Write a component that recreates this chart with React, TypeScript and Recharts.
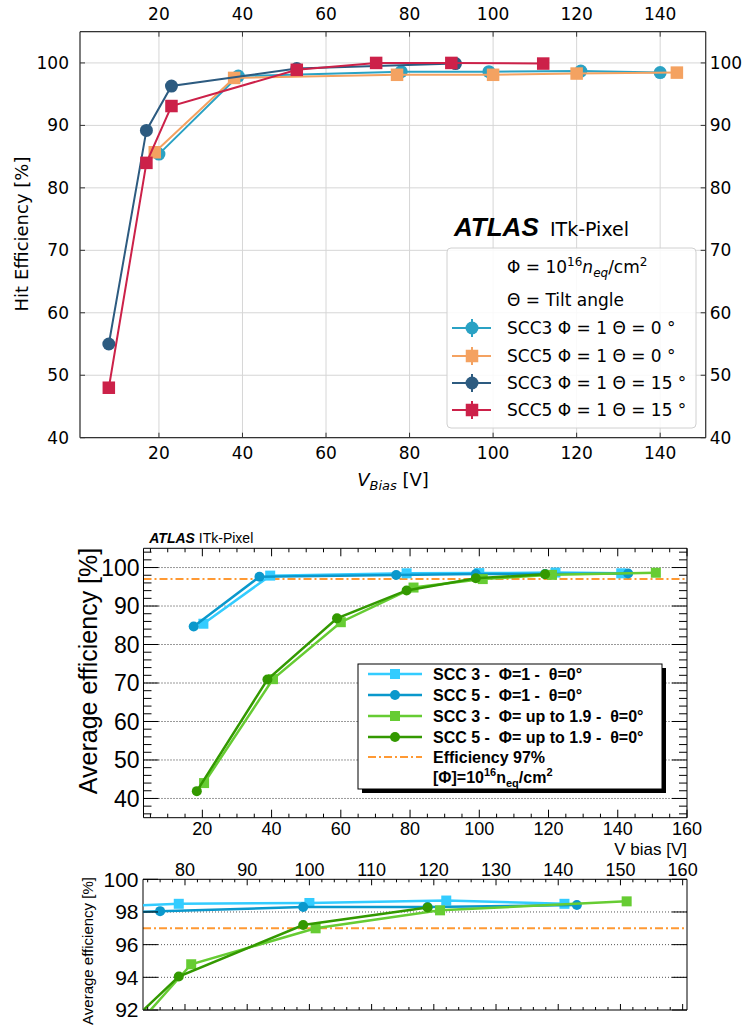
import React from "react";
import { CartesianGrid, ReferenceLine, Scatter, ScatterChart, XAxis, YAxis } from "recharts";

// ---------- top panel : hit efficiency vs V_bias ----------
const a3_0x = [20, 39, 78, 99, 121, 140]; // SCC3 Φ=1 Θ=0°
const a3_0y = [85.4, 97.9, 98.6, 98.6, 98.7, 98.45];
const a5_0x = [19, 38, 77, 100, 120, 144]; // SCC5 Φ=1 Θ=0°
const a5_0y = [85.7, 97.6, 98.1, 98.1, 98.3, 98.45];
const a3_15x = [8, 17, 23, 53, 91]; // SCC3 Φ=1 Θ=15°
const a3_15y = [55, 89.2, 96.3, 99.1, 99.9];
const a5_15x = [8, 17, 23, 53, 72, 90, 112]; // SCC5 Φ=1 Θ=15°
const a5_15y = [48, 84, 93.1, 98.9, 100, 100, 99.9];

const topXTicks = [20, 40, 60, 80, 100, 120, 140];
const topYTicks = [40, 50, 60, 70, 80, 90, 100];

// ---------- lower panels : average efficiency vs V bias ----------
const b3_1x = [20.3, 39.6, 79, 100, 122, 141]; // SCC 3 Φ=1
const b3_1y = [85.4, 97.9, 98.5, 98.55, 98.7, 98.5];
const b5_1x = [17.5, 36.5, 76, 99, 119, 143]; // SCC 5 Φ=1
const b5_1y = [84.7, 97.6, 98.05, 98.3, 98.3, 98.43];
const b3_19x = [20.5, 40.4, 60, 81, 101, 121, 151]; // SCC 3 Φ up to 1.9
const b3_19y = [44, 71, 85.8, 94.8, 97.0, 98.1, 98.65];
const b5_19x = [18.4, 38.8, 58.9, 79, 99, 119]; // SCC 5 Φ up to 1.9
const b5_19y = [41.9, 70.9, 86.8, 94.05, 97.2, 98.27];
const effLine = 97;

const midXLabels = [20, 40, 60, 80, 100, 120, 140, 160];
const midYLabels = [40, 50, 60, 70, 80, 90, 100];
const lowXLabels = [80, 90, 100, 110, 120, 130, 140, 150, 160];
const lowYLabels = [92, 94, 96, 98, 100];
const lowGrid = [94, 96, 98];

const MPL = "'DejaVu Sans', sans-serif";
const ROOT = "'Liberation Sans', Arial, sans-serif";

const pts = (xs: number[], ys: number[]) => xs.map((x, i) => ({ x, y: ys[i] }));
const range = (a: number, b: number, s: number) => {
  const out: number[] = [];
  for (let v = a; v <= b + 1e-9; v += s) out.push(Math.round(v * 100) / 100);
  return out;
};

const dot = (r: number, fill: string) => (p: any) => <circle cx={p.cx} cy={p.cy} r={r} fill={fill} />;
const box = (s: number, fill: string) => (p: any) => (
  <rect x={p.cx - s / 2} y={p.cy - s / 2} width={s} height={s} fill={fill} />
);

type Side = "left" | "right" | "top" | "bottom";
type TickStyle = {
  labels: number[];
  majors: number[];
  len: number;
  minor: number;
  pad: number;
  size: number;
  font: string;
  stroke: string;
};
const near = (arr: number[], v: number) => arr.some((a) => Math.abs(a - v) < 1e-6);

// ticks drawn inward from the frame, labels placed outside
function mkTick(side: Side, s: TickStyle) {
  return (props: any) => {
    const { x, y, payload } = props;
    const v = Number(payload.value);
    const L = near(s.majors, v) ? s.len : s.minor;
    let x2 = x, y2 = y, tx = x, ty = y;
    let anchor: "start" | "middle" | "end" = "middle";
    let dy = "0.35em";
    if (side === "left") { x2 = x + L; tx = x - s.pad; anchor = "end"; }
    else if (side === "right") { x2 = x - L; tx = x + s.pad; anchor = "start"; }
    else if (side === "top") { y2 = y + L; ty = y - s.pad; dy = "0"; }
    else { y2 = y - L; ty = y + s.pad; dy = "0.71em"; }
    return (
      <g>
        <line x1={x} y1={y} x2={x2} y2={y2} stroke={s.stroke} strokeWidth={1} />
        {near(s.labels, v) && (
          <text x={tx} y={ty} dy={dy} textAnchor={anchor} fontFamily={s.font} fontSize={s.size} fill="#000">
            {v}
          </text>
        )}
      </g>
    );
  };
}

const C = {
  a3_0: "#2aa2c4",
  a5_0: "#f4a261",
  a3_15: "#2d5b80",
  a5_15: "#cc2149",
  b3_1: "#33ccff",
  b5_1: "#0a98cc",
  b3_19: "#66cc33",
  b5_19: "#339900",
  eff: "#ff9933",
};

// axes get a 1px band (a 0 size axis is not drawn), margins are reduced by that
const AX = { tickSize: 0, tickMargin: 0, tickLine: false, interval: 0 as const, allowDataOverflow: true };

function TopChart() {
  const frame = "#333";
  const base = { majors: topXTicks, len: 5, minor: 5, size: 17, font: MPL, stroke: frame };
  const yb = { ...base, majors: topYTicks };
  const axisLine = { stroke: frame, strokeWidth: 1.2 };
  const xDom: [number, number] = [1.1, 150.9];
  const yDom: [number, number] = [40, 105];
  return (
    <ScatterChart width={744} height={500} margin={{ top: 30.7, right: 37.3, bottom: 61.3, left: 79 }}>
      <CartesianGrid stroke="#d6d6d6" strokeWidth={1} />
      <XAxis {...AX} type="number" dataKey="x" domain={xDom} ticks={topXTicks} height={1} axisLine={axisLine}
        tick={mkTick("bottom", { ...base, labels: topXTicks, pad: 9 })} />
      <XAxis {...AX} xAxisId="t" orientation="top" type="number" dataKey="x" domain={xDom} ticks={topXTicks}
        height={1} axisLine={axisLine} tick={mkTick("top", { ...base, labels: topXTicks, pad: 12 })} />
      <YAxis {...AX} type="number" dataKey="y" domain={yDom} ticks={topYTicks} width={1} axisLine={axisLine}
        tick={mkTick("left", { ...yb, labels: topYTicks, pad: 11 })} />
      <YAxis {...AX} yAxisId="r" orientation="right" type="number" dataKey="y" domain={yDom} ticks={topYTicks}
        width={1} axisLine={axisLine} tick={mkTick("right", { ...yb, labels: topYTicks, pad: 4 })} />
      <Scatter data={pts(a3_0x, a3_0y)} fill={C.a3_0} line={{ stroke: C.a3_0, strokeWidth: 2 }} lineType="joint"
        shape={dot(6.5, C.a3_0)} isAnimationActive={false} />
      <Scatter data={pts(a5_0x, a5_0y)} fill={C.a5_0} line={{ stroke: C.a5_0, strokeWidth: 2 }} lineType="joint"
        shape={box(12.5, C.a5_0)} isAnimationActive={false} />
      <Scatter data={pts(a3_15x, a3_15y)} fill={C.a3_15} line={{ stroke: C.a3_15, strokeWidth: 2 }} lineType="joint"
        shape={dot(6.5, C.a3_15)} isAnimationActive={false} />
      <Scatter data={pts(a5_15x, a5_15y)} fill={C.a5_15} line={{ stroke: C.a5_15, strokeWidth: 2 }} lineType="joint"
        shape={box(12.5, C.a5_15)} isAnimationActive={false} />
    </ScatterChart>
  );
}

function rootSeries() {
  return [
    <Scatter key="s1" data={pts(b3_1x, b3_1y)} fill={C.b3_1} line={{ stroke: C.b3_1, strokeWidth: 2.5 }}
      lineType="joint" shape={box(10, C.b3_1)} isAnimationActive={false} />,
    <Scatter key="s2" data={pts(b5_1x, b5_1y)} fill={C.b5_1} line={{ stroke: C.b5_1, strokeWidth: 2.5 }}
      lineType="joint" shape={dot(5, C.b5_1)} isAnimationActive={false} />,
    <Scatter key="s3" data={pts(b3_19x, b3_19y)} fill={C.b3_19} line={{ stroke: C.b3_19, strokeWidth: 2.5 }}
      lineType="joint" shape={box(10, C.b3_19)} isAnimationActive={false} />,
    <Scatter key="s4" data={pts(b5_19x, b5_19y)} fill={C.b5_19} line={{ stroke: C.b5_19, strokeWidth: 2.5 }}
      lineType="joint" shape={dot(5, C.b5_19)} isAnimationActive={false} />,
  ];
}

function MidChart() {
  const xt = range(5, 160, 5);
  const yt = range(36, 104, 2);
  const axisLine = { stroke: "#000", strokeWidth: 1 };
  const xs = { majors: midXLabels, len: 8, minor: 4, size: 18, font: ROOT, stroke: "#000" };
  const ys = { majors: midYLabels, len: 15, minor: 8, size: 23, font: ROOT, stroke: "#000" };
  const xDom: [number, number] = [3, 160];
  const yDom: [number, number] = [35, 105];
  return (
    <ScatterChart width={744} height={320} margin={{ top: 27.3, right: 56, bottom: 21.3, left: 142.5 }}>
      {midYLabels.map((v) => (
        <ReferenceLine key={v} y={v} stroke="#333" strokeWidth={1} strokeDasharray="1 2" />
      ))}
      <ReferenceLine y={effLine} stroke={C.eff} strokeWidth={2} strokeDasharray="8 3 2 3" />
      <XAxis {...AX} type="number" dataKey="x" domain={xDom} ticks={xt} height={1} axisLine={axisLine}
        tick={mkTick("bottom", { ...xs, labels: midXLabels, pad: 5 })} />
      <XAxis {...AX} xAxisId="t" orientation="top" type="number" dataKey="x" domain={xDom} ticks={xt} height={1}
        axisLine={axisLine} tick={mkTick("top", { ...xs, labels: [], pad: 4 })} />
      <YAxis {...AX} type="number" dataKey="y" domain={yDom} ticks={yt} width={1} axisLine={axisLine}
        tick={mkTick("left", { ...ys, labels: midYLabels, pad: 4 })} />
      <YAxis {...AX} yAxisId="r" orientation="right" type="number" dataKey="y" domain={yDom} ticks={yt} width={1}
        axisLine={axisLine} tick={mkTick("right", { ...ys, labels: [], pad: 4 })} />
      {rootSeries()}
    </ScatterChart>
  );
}

function LowChart() {
  const xt = range(74, 160, 2);
  const axisLine = { stroke: "#000", strokeWidth: 1 };
  const xs = { majors: lowXLabels, len: 6, minor: 3, size: 18, font: ROOT, stroke: "#000" };
  const ys = { majors: lowYLabels, len: 15, minor: 8, size: 21, font: ROOT, stroke: "#000" };
  const xDom: [number, number] = [73.25, 160.7];
  const yDom: [number, number] = [92, 100];
  return (
    <ScatterChart width={744} height={177} margin={{ top: 28.3, right: 56, bottom: 16, left: 142 }}>
      {lowGrid.map((v) => (
        <ReferenceLine key={v} y={v} stroke="#555" strokeWidth={1} strokeDasharray="1 2" />
      ))}
      <ReferenceLine y={effLine} stroke={C.eff} strokeWidth={2} strokeDasharray="8 3 2 3" />
      <XAxis {...AX} type="number" dataKey="x" domain={xDom} ticks={xt} height={1} axisLine={axisLine}
        tick={mkTick("bottom", { ...xs, labels: [], pad: 4 })} />
      <XAxis {...AX} xAxisId="t" orientation="top" type="number" dataKey="x" domain={xDom} ticks={xt} height={1}
        axisLine={axisLine} tick={mkTick("top", { ...xs, labels: lowXLabels, pad: 3 })} />
      <YAxis {...AX} type="number" dataKey="y" domain={yDom} ticks={lowYLabels} width={1} axisLine={axisLine}
        tick={mkTick("left", { ...ys, labels: lowYLabels, pad: 4.5 })} />
      <YAxis {...AX} yAxisId="r" orientation="right" type="number" dataKey="y" domain={yDom} ticks={lowYLabels}
        width={1} axisLine={axisLine} tick={mkTick("right", { ...ys, labels: [], pad: 4 })} />
      {rootSeries()}
    </ScatterChart>
  );
}

// text, legends and axis titles drawn over the three panels
function Overlay() {
  const rowsTop = [
    { y: 328, c: C.a3_0, sq: false, t: "SCC3 Φ = 1 Θ = 0 °" },
    { y: 356, c: C.a5_0, sq: true, t: "SCC5 Φ = 1 Θ = 0 °" },
    { y: 383, c: C.a3_15, sq: false, t: "SCC3 Φ = 1 Θ = 15 °" },
    { y: 410, c: C.a5_15, sq: true, t: "SCC5 Φ = 1 Θ = 15 °" },
  ];
  const rowsMid = [
    { y: 674, c: C.b3_1, sq: true, t: "SCC 3 -  Φ=1 -  θ=0°" },
    { y: 695, c: C.b5_1, sq: false, t: "SCC 5 -  Φ=1 -  θ=0°" },
    { y: 716, c: C.b3_19, sq: true, t: "SCC 3 -  Φ= up to 1.9 -  θ=0°" },
    { y: 737, c: C.b5_19, sq: false, t: "SCC 5 -  Φ= up to 1.9 -  θ=0°" },
  ];
  return (
    <svg width={744} height={1027} style={{ position: "absolute", left: 0, top: 0, pointerEvents: "none" }}>
      {/* top panel titles */}
      <text transform="translate(22,234) rotate(-90)" textAnchor="middle" dy="0.35em" fontFamily={MPL} fontSize={18}>
        Hit Efficiency [%]
      </text>
      <text x={393} y={486} textAnchor="middle" fontFamily={MPL} fontSize={18}>
        <tspan fontStyle="italic">V</tspan>
        <tspan fontStyle="italic" fontSize={13} dy={4}>Bias</tspan>
        <tspan dy={-4}> [V]</tspan>
      </text>

      {/* top legend */}
      <rect x={447} y={248} width={249} height={180} rx={4} fill="#fff" fillOpacity={0.85} stroke="#d0d0d0" />
      <text x={454} y={236} fontFamily={ROOT} fontSize={26} fontWeight="bold" fontStyle="italic">ATLAS</text>
      <text x={550} y={236} fontFamily={MPL} fontSize={19}>ITk-Pixel</text>
      <text x={507} y={273} fontFamily={MPL} fontSize={17}>
        Φ = 10<tspan fontSize={12} dy={-7}>16</tspan>
        <tspan fontStyle="italic" dy={7}>n</tspan>
        <tspan fontStyle="italic" fontSize={12} dy={4}>eq</tspan>
        <tspan dy={-4}>/cm</tspan>
        <tspan fontSize={12} dy={-7}>2</tspan>
      </text>
      <text x={507} y={306} fontFamily={MPL} fontSize={17}>Θ = Tilt angle</text>
      {rowsTop.map((r) => (
        <g key={r.t}>
          <line x1={452} x2={491} y1={r.y} y2={r.y} stroke={r.c} strokeWidth={2} />
          <line x1={472} x2={472} y1={r.y - 9} y2={r.y + 9} stroke={r.c} strokeWidth={2} />
          {r.sq ? (
            <rect x={465.75} y={r.y - 6.25} width={12.5} height={12.5} fill={r.c} />
          ) : (
            <circle cx={472} cy={r.y} r={6.5} fill={r.c} />
          )}
          <text x={507} y={r.y + 6} fontFamily={MPL} fontSize={17}>{r.t}</text>
        </g>
      ))}

      {/* middle panel titles */}
      <text x={149.3} y={543.3} fontFamily={ROOT} fontSize={14}>
        <tspan fontWeight="bold" fontStyle="italic">ATLAS</tspan> ITk-Pixel
      </text>
      <text transform="translate(88,671) rotate(-90)" textAnchor="middle" dy="0.35em" fontFamily={ROOT} fontSize={25}>
        Average efficiency [%]
      </text>
      <text x={687} y={855} textAnchor="end" fontFamily={ROOT} fontSize={17}>V bias [V]</text>

      {/* middle legend with shadow */}
      <rect x={362} y={668} width={304} height={125} fill="#000" />
      <rect x={358} y={664} width={304} height={125} fill="#fff" stroke="#000" strokeWidth={1} />
      {rowsMid.map((r) => (
        <g key={r.t}>
          <line x1={368} x2={422} y1={r.y} y2={r.y} stroke={r.c} strokeWidth={2.5} />
          {r.sq ? (
            <rect x={390} y={r.y - 5} width={10} height={10} fill={r.c} />
          ) : (
            <circle cx={395} cy={r.y} r={5} fill={r.c} />
          )}
          <text x={433} y={r.y + 5.5} fontFamily={ROOT} fontSize={16} fontWeight="bold" style={{ whiteSpace: "pre" }}>
            {r.t}
          </text>
        </g>
      ))}
      <line x1={368} x2={422} y1={757} y2={757} stroke={C.eff} strokeWidth={2} strokeDasharray="8 3 2 3" />
      <text x={433} y={762.5} fontFamily={ROOT} fontSize={16} fontWeight="bold">Efficiency 97%</text>
      <text x={433} y={783} fontFamily={ROOT} fontSize={16} fontWeight="bold">
        [Φ]=10<tspan fontSize={11} dy={-7}>16</tspan>
        <tspan dy={7}>n</tspan>
        <tspan fontSize={11} dy={4}>eq</tspan>
        <tspan dy={-4}>/cm</tspan>
        <tspan fontSize={11} dy={-7}>2</tspan>
      </text>

      {/* bottom panel title */}
      <text transform="translate(88,951) rotate(-90)" textAnchor="middle" dy="0.35em" fontFamily={ROOT} fontSize={15}>
        Average efficiency [%]
      </text>
    </svg>
  );
}

export default function App() {
  return (
    <div style={{ position: "absolute", left: 0, top: 0, width: 744, height: 1027, background: "#fff" }}>
      <div style={{ position: "absolute", left: 0, top: 0 }}>
        <TopChart />
      </div>
      <div style={{ position: "absolute", left: 0, top: 520 }}>
        <MidChart />
      </div>
      <div style={{ position: "absolute", left: 0, top: 850 }}>
        <LowChart />
      </div>
      <Overlay />
    </div>
  );
}
